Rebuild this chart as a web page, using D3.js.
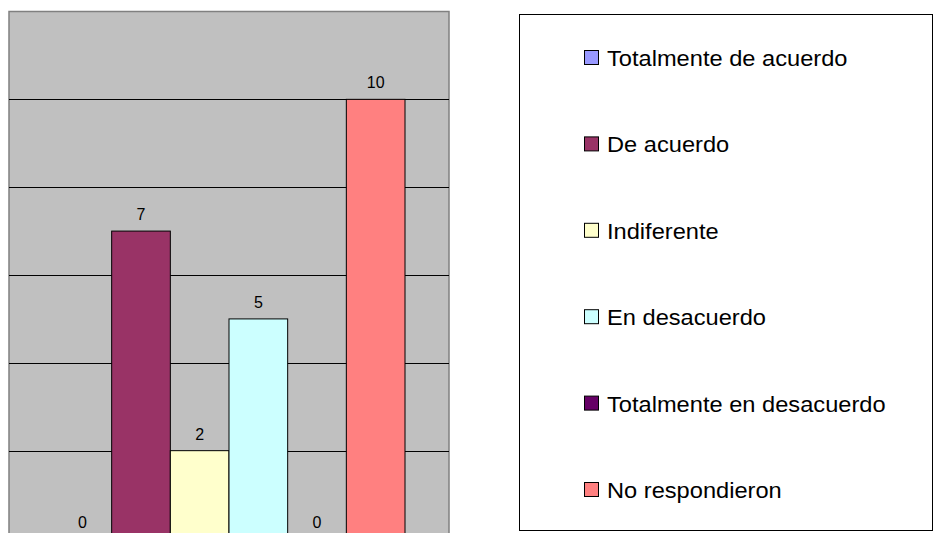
<!DOCTYPE html>
<meta charset="utf-8" />
<script src="https://d3js.org/d3.v7.min.js"></script>
<style>
  body { margin: 0; background: #fff; }
  text { font-family: "Liberation Sans", Arial, sans-serif; }
</style>
<body>
<div id="chart"></div>
<script>
  // data
  const categories = ["Totalmente de acuerdo", "De acuerdo", "Indiferente", "En desacuerdo", "Totalmente en desacuerdo", "No respondieron"];
  const values = [0, 7, 2, 5, 0, 10];
  const colors = ["#9999FF", "#993366", "#FFFFCC", "#CCFFFF", "#660066", "#FF8080"];
  const yTicks = [0, 2, 4, 6, 8, 10, 12];

  const W = 933, H = 533;
  const plot = {left: 9, right: 449, top: 11.5, bottom: 538.5};

  const svg = d3.select("#chart").append("svg")
    .attr("width", W)
    .attr("height", H);

  const x = d3.scaleBand()
    .domain(categories)
    .range([plot.left, plot.right])
    .paddingInner(0)
    .paddingOuter(0.75);

  const y = d3.scaleLinear()
    .domain([0, 12])
    .range([plot.bottom, plot.top]);

  // plot area
  svg.append("rect")
    .attr("x", plot.left)
    .attr("y", plot.top)
    .attr("width", plot.right - plot.left)
    .attr("height", plot.bottom - plot.top)
    .attr("fill", "#C0C0C0")
    .attr("stroke", "#808080")
    .attr("stroke-width", 1.5);

  // gridlines
  svg.append("g")
    .selectAll("line")
    .data(yTicks.filter(d => d > 0 && d < 12))
    .enter()
    .append("line")
    .attr("x1", plot.left)
    .attr("x2", plot.right)
    .attr("y1", d => Math.round(y(d)) + 0.5)
    .attr("y2", d => Math.round(y(d)) + 0.5)
    .attr("stroke", "#000")
    .attr("stroke-width", 1);

  // bars
  svg.append("g")
    .selectAll("rect")
    .data(values)
    .enter()
    .append("rect")
    .attr("x", (d, i) => x(categories[i]))
    .attr("y", d => y(d))
    .attr("width", x.bandwidth())
    .attr("height", d => y(0) - y(d))
    .attr("fill", (d, i) => colors[i])
    .attr("stroke", "#000")
    .attr("stroke-width", 1);

  // value labels
  svg.append("g")
    .selectAll("text")
    .data(values)
    .enter()
    .append("text")
    .attr("x", (d, i) => x(categories[i]) + x.bandwidth() / 2)
    .attr("y", d => y(d) - 11)
    .attr("text-anchor", "middle")
    .style("font-size", "16px")
    .attr("fill", "#000")
    .text(d => d);

  // legend
  const legend = svg.append("g");
  legend.append("rect")
    .attr("x", 519.5)
    .attr("y", 14.5)
    .attr("width", 413)
    .attr("height", 516)
    .attr("fill", "#fff")
    .attr("stroke", "#000")
    .attr("stroke-width", 1);

  const ly = d3.scalePoint()
    .domain(categories)
    .range([57.5, 489.5]);

  const items = legend.selectAll("g.item")
    .data(categories)
    .enter()
    .append("g")
    .attr("class", "item")
    .attr("transform", d => "translate(584," + ly(d) + ")");

  items.append("rect")
    .attr("x", 0.5)
    .attr("y", -7)
    .attr("width", 14)
    .attr("height", 14)
    .attr("fill", (d, i) => colors[i])
    .attr("stroke", "#000")
    .attr("stroke-width", 1);

  // legend text is a bit wider than plain Arial in the original
  items.append("text")
    .attr("transform", "translate(23,8.5) scale(1.075,1)")
    .style("font-size", "22px")
    .attr("fill", "#000")
    .text(d => d);
</script>
</body>
